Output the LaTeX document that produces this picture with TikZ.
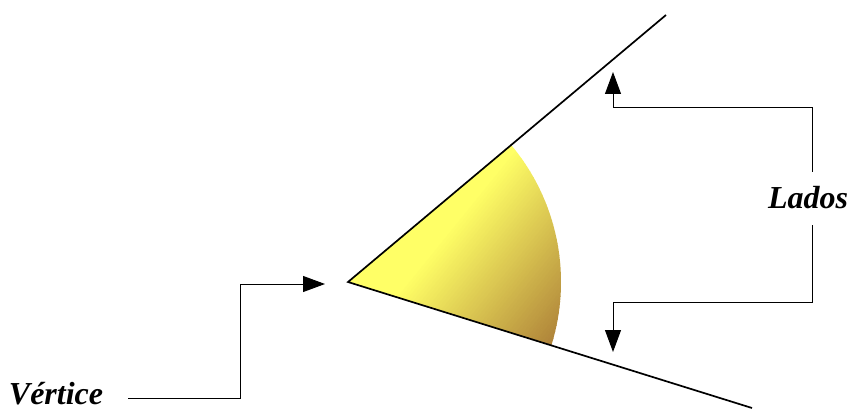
\documentclass[tikz,border=0pt]{standalone}
\usepackage{fontspec}
\setmainfont{Liberation Serif}
\usetikzlibrary{arrows.meta}
\definecolor{yel}{RGB}{255,255,102}
\definecolor{brn}{RGB}{165,116,52}
\tikzset{
  side/.style={line width=1.7pt, black},
  conn/.style={line width=1pt, black, -{Triangle[length=22pt,width=16pt]}},
  lab/.style={font=\fontsize{32}{38}\selectfont\bfseries\itshape, inner sep=0pt, anchor=base}
}
\begin{document}
\begin{tikzpicture}[x=1pt,y=1pt]
\useasboundingbox (0,0) rectangle (853,410);
\coordinate (V) at (348,128);
\coordinate (U) at (666,395);
\coordinate (L) at (752,2);
% sector with gradient
\begin{scope}
  \clip (V) -- ++(40:213) arc (40:-17.2:213) -- cycle;
  \foreach \i in {0,...,79}{
    \pgfmathsetmacro{\p}{\i*3}
    \pgfmathsetmacro{\t}{min(100,max(0,(\p-45)/170*100))}
    \fill[brn!\t!yel, shift={(V)}, rotate=-39] (\p,-300) rectangle (\p+3.6,300);
  }
\end{scope}
\draw[side] (U) -- (V) -- (L);
% labels
\node[lab] (lados) at (808,201) {Lados};
\node[lab] (vert) at (56,6) {Vértice};
% connectors
\coordinate (la1) at (812,238);
\coordinate (la2) at (812,185);
\coordinate (ut) at (613,338);
\coordinate (lt) at (613,58);
\coordinate (v0) at (128,12);
\coordinate (vt) at (325,126);
\draw[conn] (la1) -- (812,302) -- (613,302) -- (ut);
\draw[conn] (la2) -- (812,108) -- (613,108) -- (lt);
\draw[conn] (v0) -- (240,12) -- (240,126) -- (vt);
\end{tikzpicture}
\end{document}
